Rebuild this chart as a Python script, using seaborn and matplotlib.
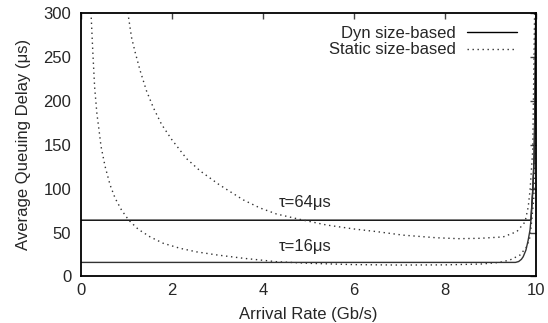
import numpy as np
import pandas as pd
import matplotlib
matplotlib.use("Agg")
import matplotlib.pyplot as plt
import seaborn as sns

# values
dyn16_x = [0, 2, 4, 6, 8, 9, 9.55, 9.62, 9.68, 9.72, 9.78, 9.83, 9.87, 9.89, 9.93, 9.96, 9.98, 9.995]
dyn16_y = [16, 16, 16, 16, 16, 16, 16, 17, 19.5, 22.5, 30, 41.5, 53, 64, 98, 136, 200, 300]

dyn64_x = [0, 2, 4, 6, 8, 9, 9.87, 9.89, 9.93, 9.96, 9.98, 9.995]
dyn64_y = [64, 64, 64, 64, 64, 64, 64, 65, 98, 136, 200, 300]

static16_x = [0.22, 0.26, 0.30, 0.35, 0.40, 0.44, 0.53, 0.64, 0.75, 0.89, 1.05, 1.26, 1.52, 1.81,
              2.18, 2.54, 3.0, 3.57, 4.3, 5.0, 6.0, 7.0, 8.0, 8.8, 9.2, 9.43, 9.65, 9.8, 9.87,
              9.9, 9.95, 9.97, 9.99]
static16_y = [300, 255, 215, 185, 165, 148, 125, 104, 89, 75.6, 64, 53.6, 45, 37.7,
              32, 28, 24.4, 20.7, 16.8, 15, 13.5, 13, 13.2, 14.2, 16, 18.8, 24.4, 34, 45,
              60, 87, 117, 300]

static64_x = [1.03, 1.11, 1.19, 1.30, 1.44, 1.59, 1.77, 1.99, 2.32, 2.62, 3.02, 3.20, 3.57,
              3.93, 4.30, 4.89, 5.40, 6.0, 6.5, 7.08, 7.82, 8.3, 8.77, 9.28, 9.58, 9.76,
              9.83, 9.87, 9.90, 9.93, 9.97]
static64_y = [300, 272, 255, 234, 211, 192, 173, 156, 134, 120, 105, 99, 87,
              78, 71, 64, 58.5, 54, 51, 47, 44, 43, 43.4, 45, 51, 62,
              79, 98, 121, 144, 300]

x_ticks = [0, 2, 4, 6, 8, 10]
y_ticks = [0, 50, 100, 150, 200, 250, 300]
tau_labels = ["τ=64μs", "τ=16μs"]
tau_pos = [(4.92, 84), (4.92, 34.5)]

sns.set_style("white")
plt.rcParams['font.family'] = ['Liberation Sans', 'DejaVu Sans']
plt.rcParams['font.size'] = 12

fig = plt.figure(figsize=(5.48, 3.23), dpi=100)
ax = fig.add_axes([0.1478, 0.144, 0.978 - 0.1478, 0.961 - 0.144])

dot = (0, (1, 2.6))
sns.lineplot(x=dyn64_x, y=dyn64_y, ax=ax, color="black", linewidth=1, label="Dyn size-based")
sns.lineplot(x=static64_x, y=static64_y, ax=ax, color="#333333", linewidth=1, linestyle=dot,
             label="Static size-based")
sns.lineplot(x=dyn16_x, y=dyn16_y, ax=ax, color="#333333", linewidth=1)
sns.lineplot(x=static16_x, y=static16_y, ax=ax, color="#333333", linewidth=1, linestyle=dot)

for lab, (tx, ty) in zip(tau_labels, tau_pos):
    ax.text(tx, ty, lab, ha="center", va="center", fontsize=12)

ax.set_xlim(0, 10)
ax.set_ylim(0, 300)
ax.set_xticks(x_ticks)
ax.set_yticks(y_ticks)
ax.tick_params(direction="in", length=4, width=1, top=True, right=True, color="#444444", labelsize=12)
ax.tick_params(axis="x", pad=5)
ax.tick_params(axis="y", pad=7)
for s in ax.spines.values():
    s.set_linewidth(1.3)
    s.set_color("black")

ax.set_xlabel("Arrival Rate (Gb/s)", fontsize=12, labelpad=6)
ax.set_ylabel("Average Queuing Delay (μs)", fontsize=12, labelpad=9)

leg = ax.legend(loc="upper right", frameon=False, markerfirst=False, fontsize=12,
                handlelength=3.0, bbox_to_anchor=(0.958, 0.95), borderaxespad=0, borderpad=0,
                labelspacing=0.1, handletextpad=0.65)

fig.savefig("out.png", dpi=100)
